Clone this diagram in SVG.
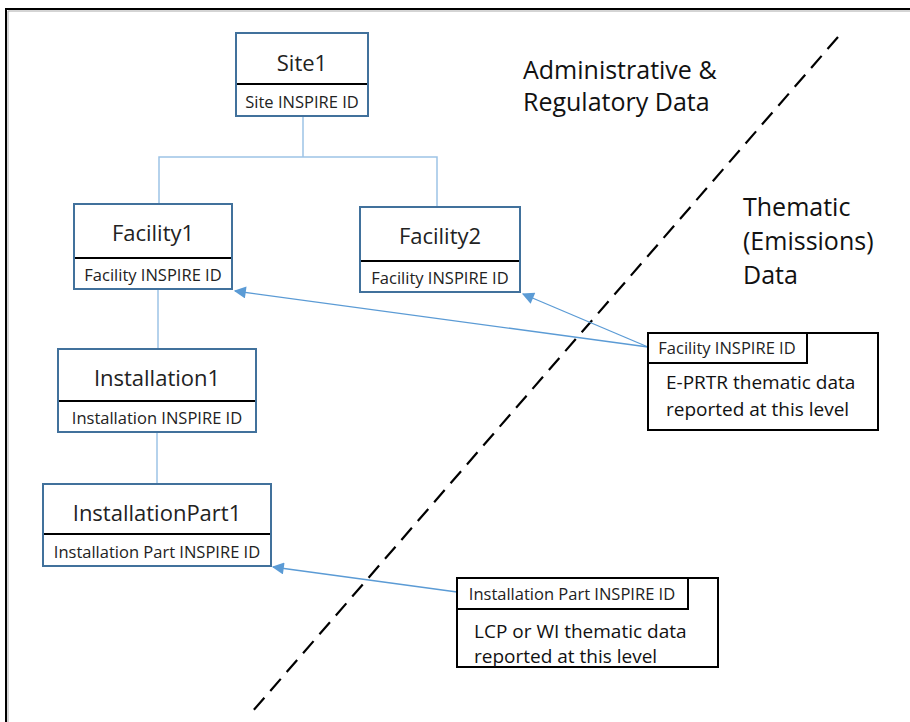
<svg xmlns="http://www.w3.org/2000/svg" width="910" height="722" viewBox="0 0 910 722">
<style>
.node{fill:#fff;stroke:#41719C;stroke-width:2}
.div{stroke:#000;stroke-width:2}
.title{font-family:"Open Sans","Liberation Sans",sans-serif;font-size:22px;fill:#222;text-anchor:middle}
.id{font-family:"Open Sans","Liberation Sans",sans-serif;font-size:16.5px;fill:#222;text-anchor:middle}
.tree{fill:none;stroke:#9DC3E6;stroke-width:1.5}
.arr{fill:none;stroke:#5B9BD5;stroke-width:1.3}
.them{fill:#fff;stroke:#000;stroke-width:2}
.big{font-family:"Open Sans","Liberation Sans",sans-serif;font-size:25px;fill:#111}
.mid{font-family:"Open Sans","Liberation Sans",sans-serif;font-size:19px;fill:#111}
</style>
<defs>
<marker id="ah" viewBox="0 0 10 10" refX="9" refY="5" markerWidth="14" markerHeight="12" markerUnits="userSpaceOnUse" orient="auto">
<path d="M0,0 L10,5 L0,10 z" fill="#5B9BD5"/>
</marker>
</defs>
<rect width="910" height="722" fill="#fff"/>
<polyline points="6,722 6,9 910,9" fill="none" stroke="#000" stroke-width="2"/>
<polyline points="8,722 8,11 910,11" fill="none" stroke="#aaa" stroke-width="1"/>
<line x1="838" y1="37" x2="252" y2="712" stroke="#000" stroke-width="2.2" stroke-dasharray="16,9"/>
<g id="connectors">
<polyline class="tree" points="303,116 303,157"/>
<polyline class="tree" points="159,205 159,157 437,157 437,207"/>
<line class="tree" x1="158" y1="289" x2="158" y2="349"/>
<line class="tree" x1="157" y1="432" x2="157" y2="484"/>
<line class="arr" x1="648" y1="347" x2="235" y2="291" marker-end="url(#ah)"/>
<line class="arr" x1="648" y1="347" x2="523" y2="294" marker-end="url(#ah)"/>
<line class="arr" x1="457" y1="592" x2="273" y2="567" marker-end="url(#ah)"/>
</g>
<g id="site1">
<rect class="node" x="236" y="33" width="132" height="83"/>
<line class="div" x1="237" y1="84" x2="367" y2="84"/>
<text class="title" x="302" y="71">Site1</text>
<text class="id" x="302" y="108">Site INSPIRE ID</text>
</g>
<g id="facility1">
<rect class="node" x="74" y="204" width="158" height="85"/>
<line class="div" x1="75" y1="258" x2="231" y2="258"/>
<text class="title" x="153" y="241">Facility1</text>
<text class="id" x="153" y="281">Facility INSPIRE ID</text>
</g>
<g id="facility2">
<rect class="node" x="360" y="207" width="160" height="85"/>
<line class="div" x1="361" y1="261" x2="519" y2="261"/>
<text class="title" x="440" y="244">Facility2</text>
<text class="id" x="440" y="284">Facility INSPIRE ID</text>
</g>
<g id="installation1">
<rect class="node" x="58" y="349" width="198" height="83"/>
<line class="div" x1="59" y1="401" x2="255" y2="401"/>
<text class="title" x="157" y="386">Installation1</text>
<text class="id" x="157" y="424">Installation INSPIRE ID</text>
</g>
<g id="installationpart1">
<rect class="node" x="43" y="484" width="228" height="82"/>
<line class="div" x1="44" y1="534" x2="270" y2="534"/>
<text class="title" x="157" y="521">InstallationPart1</text>
<text class="id" x="157" y="558">Installation Part INSPIRE ID</text>
</g>
<g id="eprtr">
<rect class="them" x="648" y="333" width="230" height="97"/>
<rect class="them" x="648" y="333" width="159" height="30"/>
<text class="id" x="727" y="354">Facility INSPIRE ID</text>
<text class="mid" x="666" y="389">E-PRTR thematic data</text>
<text class="mid" x="666" y="416">reported at this level</text>
</g>
<g id="lcp">
<rect class="them" x="457" y="578" width="261" height="89"/>
<rect class="them" x="457" y="578" width="231" height="31"/>
<text class="id" x="572" y="600">Installation Part INSPIRE ID</text>
<text class="mid" x="474" y="638">LCP or WI thematic data</text>
<text class="mid" x="474" y="663">reported at this level</text>
</g>
<g id="labels">
<text class="big" x="523" y="79">Administrative &amp;</text>
<text class="big" x="523" y="111">Regulatory Data</text>
<text class="big" x="743" y="216">Thematic</text>
<text class="big" x="743" y="250">(Emissions)</text>
<text class="big" x="743" y="284">Data</text>
</g>
</svg>
